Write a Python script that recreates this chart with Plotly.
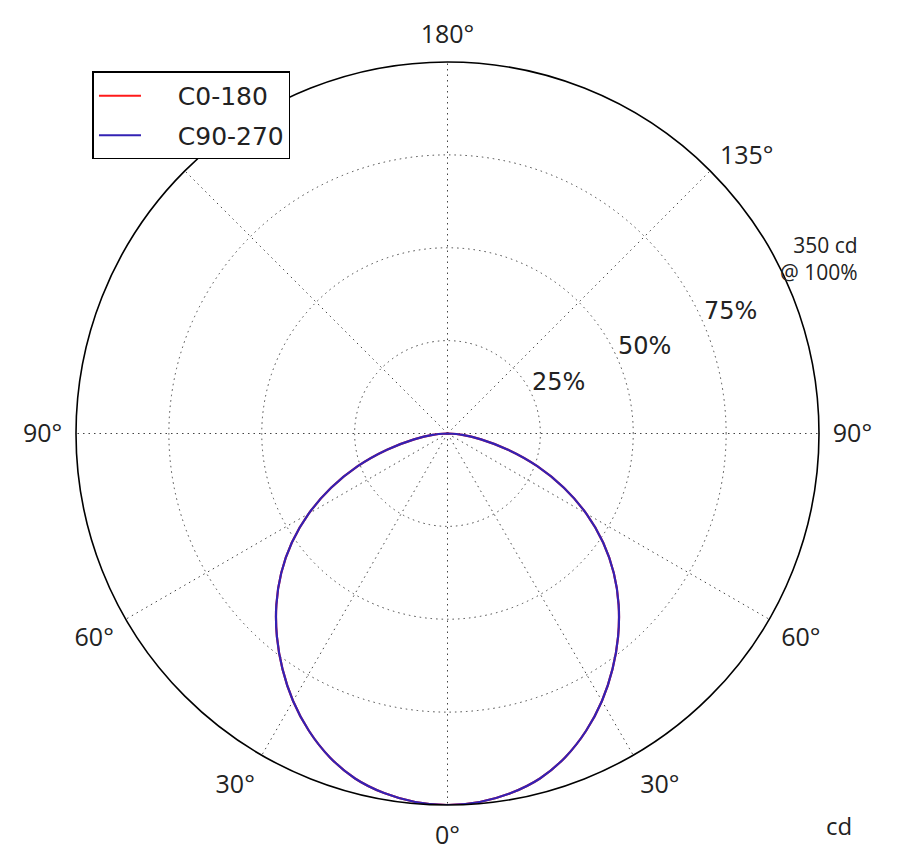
import math
import plotly.graph_objects as go

# Vertical angles (gamma, degrees) and luminous intensity (cd)
gamma = [0, 5, 10, 15, 20, 25, 30, 35, 40, 45, 50, 55, 60, 65, 70, 75, 80, 85, 90,
         95, 100, 105, 110, 115, 120, 125, 130, 135, 140, 145, 150, 155, 160, 165, 170, 175, 180]
c0_180 = [350, 348.5, 344, 336.5, 324.5, 309, 291, 271, 250, 228, 204.5, 179, 151, 121, 90, 59, 32, 14, 0,
          0, 0, 0, 0, 0, 0, 0, 0, 0, 0, 0, 0, 0, 0, 0, 0, 0, 0]
c90_270 = [350, 348.5, 344, 336.5, 324.5, 309, 291, 271, 250, 228, 204.5, 179, 151, 121, 90, 59, 32, 14, 0,
           0, 0, 0, 0, 0, 0, 0, 0, 0, 0, 0, 0, 0, 0, 0, 0, 0, 0]

series_names = ["C0-180", "C90-270"]
series_colors = ["#ff1a1a", "#3322b4"]

angle_ticks = [0, 30, 60, 90, 135, 180, 225, 270, 300, 330]
angle_labels = ["0°", "30°", "60°", "90°", "135°", "180°", "", "90°", "60°", "30°"]

max_cd = 350
radial_ticks = [87.5, 175, 262.5, 350]
radial_labels = ["25%", "50%", "75%", "350 cd<br>@ 100%"]
radial_label_angle = 22.5


def full_plane(values):
    theta = [-g for g in reversed(gamma)] + gamma[1:]
    r = list(reversed(values)) + values[1:]
    return theta, r


fig = go.Figure()
for i, (name, vals, col) in enumerate(zip(series_names, [c0_180, c90_270], series_colors)):
    th, rr = full_plane(vals)
    fig.add_trace(go.Scatterpolar(theta=th, r=rr, mode="lines",
                                  name="\u00a0\u00a0\u00a0\u00a0" + name,
                                  legendgroup="g%d" % i,
                                  line=dict(color=col, width=2.2, shape="spline", smoothing=0.9)))

W, H = 919, 852
cx, cy, R = 439.5, 425.5, 372
ml = cx - R
mr = W - cx - R
mt = cy - R
mb = H - cy - R
side = 2 * R

grid_style = dict(showgrid=True, gridcolor="#444", griddash="1.5px,4px", gridwidth=1.2)

fig.update_layout(
    width=W, height=H,
    margin=dict(l=ml, r=mr, t=mt, b=mb, pad=0),
    paper_bgcolor="white", plot_bgcolor="white",
    font=dict(family="DejaVu Sans", size=22, color="#222"),
    polar=dict(
        domain=dict(x=[0, 1], y=[0, 1]),
        bgcolor="white",
        angularaxis=dict(
            rotation=270, direction="counterclockwise",
            tickmode="array", tickvals=angle_ticks, ticktext=angle_labels,
            showline=True, linecolor="black", linewidth=1.6,
            ticks="outside", ticklen=8, tickcolor="rgba(0,0,0,0)",
            tickfont=dict(family="Open Sans", size=25, color="#222"),
            **grid_style,
        ),
        radialaxis=dict(
            range=[0, max_cd], angle=radial_label_angle,
            tickmode="array", tickvals=radial_ticks, ticktext=radial_labels,
            showline=False, ticks="", showticklabels=False,
            **grid_style,
        ),
    ),
    legend=dict(
        x=(84 - ml) / side, y=1 - (63 - mt) / side, xanchor="left", yanchor="top",
        bgcolor="white", bordercolor="black", borderwidth=1.5,
        font=dict(family="DejaVu Sans", size=25, color="#222"),
        itemwidth=42, tracegroupgap=4,
    ),
    showlegend=True,
)


def to_paper(px, py):
    return (px - ml) / side, 1 - (py - mt) / side


# radial tick labels, placed next to each radial tick along the label angle
a = math.radians(radial_label_angle)
for val, lab in zip(radial_ticks, radial_labels):
    px = cx + val / max_cd * R * math.cos(a)
    py = cy - val / max_cd * R * math.sin(a)
    if val < max_cd:
        x, y = to_paper(px, py)
        fig.add_annotation(text=lab, xref="paper", yref="paper", x=x, y=y,
                           xanchor="left", yanchor="bottom", showarrow=False,
                           xshift=-3, font=dict(family="DejaVu Sans", size=24, color="#222"))
    else:
        x, y = to_paper(px + 68, py - 33)
        fig.add_annotation(text=lab, xref="paper", yref="paper", x=x, y=y,
                           xanchor="right", yanchor="middle", align="right",
                           showarrow=False, borderpad=0,
                           font=dict(family="Open Sans", size=21, color="#222"))

x, y = to_paper(832, 818)
fig.add_annotation(text="cd", xref="paper", yref="paper", x=x, y=y,
                   xanchor="center", yanchor="middle", showarrow=False,
                   font=dict(family="Open Sans", size=24, color="#222"))

fig.write_html("out.html")
